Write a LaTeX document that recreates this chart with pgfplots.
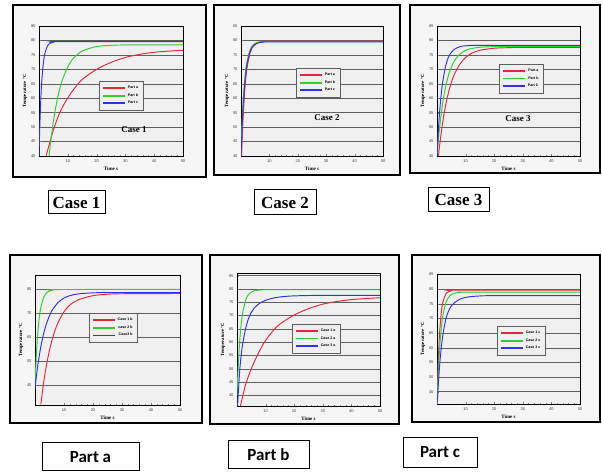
\documentclass[border=0pt]{standalone}
\usepackage{pgfplots}
\pgfplotsset{compat=1.18}
\usepackage{fontspec}
\setmainfont{Liberation Serif}
\setsansfont{Liberation Sans}
\newfontfamily\carlito{Carlito}

\definecolor{cred}{RGB}{228,40,60}
\definecolor{cgreen}{RGB}{50,205,50}
\definecolor{cblue}{RGB}{50,50,235}
\definecolor{panelbg}{RGB}{240,240,240}
\definecolor{framebg}{RGB}{246,246,246}
\definecolor{gridc}{RGB}{95,95,95}

\pgfplotsset{panel/.style={
 scale only axis, xmin=0, xmax=50, xtick={10,20,30,40,50},
 minor x tick num=4, minor y tick num=4,
 tick pos=left, tick align=inside,
 major tick length=2pt, minor tick length=1pt,
 ymajorgrids, grid style={gridc, line width=0.5pt},
 axis line style={black, line width=0.6pt},
 axis background/.style={fill=panelbg},
 ticklabel style={font=\sffamily\fontsize{4}{4}\selectfont, text=black!75},
 /pgf/number format/assume math mode=true,
 xlabel={Time s}, ylabel={Temperature °C},
 xlabel style={font=\bfseries\fontsize{5}{5}\selectfont, yshift=2pt},
 ylabel style={font=\bfseries\fontsize{4.8}{5}\selectfont, yshift=-3pt},
 every axis plot/.append style={line width=0.95pt, smooth},
 legend style={font=\sffamily\bfseries\fontsize{3.6}{4}\selectfont, draw=gridc, fill=panelbg, line width=0.4pt, inner xsep=3pt, inner ysep=3pt, row sep=-0.5pt, anchor=north west},
 legend cell align=right,
 legend image code/.code={\draw[#1, line width=1.6pt] (0pt,0pt) -- (22pt,0pt);},
}}

\begin{document}
\begin{tikzpicture}
\useasboundingbox (0pt,0pt) rectangle (602pt,471pt);
\fill[white] (0pt,0pt) rectangle (602pt,471pt);

% frames
\draw[line width=1.1pt, fill=framebg] (13pt,294pt) rectangle (206pt,466pt);
\draw[line width=1.1pt, fill=framebg] (214pt,296pt) rectangle (400pt,466pt);
\draw[line width=1.1pt, fill=framebg] (410pt,298pt) rectangle (600pt,466pt);
\draw[line width=1.1pt, fill=framebg] (10pt,48pt) rectangle (202pt,216pt);
\draw[line width=1.1pt, fill=framebg] (210pt,47pt) rectangle (399pt,216pt);
\draw[line width=1.1pt, fill=framebg] (412pt,49pt) rectangle (600pt,216pt);

% ---------- Case 1
\begin{axis}[panel, at={(39pt,315pt)}, anchor=south west, width=144pt, height=130pt,
  ymin=40, ymax=85, ytick={40,45,...,85},
  legend style={at={(0.417,0.577)}}]
\addplot[cred] coordinates {(2.5,40) (3,42) (5,49) (7,54.5) (9.3,59) (12,63) (15,66.5) (20,70) (25,72.4) (30,74.1) (35,75.2) (40,75.9) (45,76.3) (50,76.6)};
\addplot[cgreen] coordinates {(3.5,40) (4,44.5) (5,52) (6,57.9) (7,62.5) (8,66) (10,70.9) (12,73.9) (15,76.3) (20,77.9) (25,78.3) (30,78.45) (50,78.5)};
\addplot[cblue] coordinates {(0,39.6) (0.25,49.3) (0.5,56.6) (0.75,62.2) (1,66.4) (1.5,72) (2,75.3) (3,78.2) (4,79.1) (5,79.4) (7,79.6) (50,79.6)};
\legend{Part a, Part b, Part c}
\node[font=\bfseries\fontsize{9}{9}\selectfont] at (axis cs:33,49) {Case 1};
\end{axis}

% ---------- Case 2
\begin{axis}[panel, at={(241pt,315pt)}, anchor=south west, width=142pt, height=130pt,
  ymin=40, ymax=85, ytick={40,45,...,85},
  legend style={at={(0.387,0.677)}}]
\addplot[cred, line width=1.3pt] coordinates {(0.15,40) (0.4,46.7) (0.65,52.5) (1.15,61.2) (1.65,67.1) (2.15,71.1) (3.15,75.7) (4.15,77.9) (5.15,78.8) (6.15,79.3) (8.15,79.6) (10.15,79.7) (50,79.7)};
\addplot[cgreen, line width=1pt] coordinates {(0,42) (0.25,48.5) (0.5,54.2) (1,62.6) (1.5,68.2) (2,72) (3,76.2) (4,78.2) (5,79) (6,79.4) (8,79.65) (10,79.7) (50,79.7)};
\addplot[cblue, line width=0.9pt] coordinates {(0,40) (0.25,46.7) (0.5,52.5) (1,61.2) (1.5,67.1) (2,71.1) (3,75.6) (4,77.8) (5,78.7) (6,79.15) (8,79.45) (10,79.5) (50,79.5)};
\legend{Part a, Part b, Part c}
\node[font=\bfseries\fontsize{9}{9}\selectfont] at (axis cs:30.3,53.2) {Case 2};
\end{axis}

% ---------- Case 3
\begin{axis}[panel, at={(437pt,315pt)}, anchor=south west, width=143pt, height=130pt,
  ymin=40, ymax=85, ytick={40,45,...,85},
  legend style={at={(0.434,0.708)}}]
\addplot[cred] coordinates {(0.5,40) (1,44.4) (2,51.8) (3,57.5) (4,61.9) (5,65.4) (6,68.1) (8,71.8) (10,74.1) (12,75.5) (15,76.6) (20,77.3) (25,77.5) (30,77.6) (50,77.6)};
\addplot[cgreen] coordinates {(0,40) (0.5,45.8) (1,50.7) (2,58.5) (3,63.9) (4,67.9) (5,70.7) (6,72.8) (8,75.3) (10,76.55) (12,77.2) (15,77.65) (20,77.85) (30,77.9) (50,77.9)};
\addplot[cblue] coordinates {(0,40) (0.5,49.3) (1,56.3) (1.5,61.6) (2,65.7) (3,71.1) (4,74.2) (5,75.9) (6,76.9) (8,77.85) (10,78.15) (12,78.25) (15,78.3) (50,78.3)};
\legend{Part a, Part b, Part C}
\node[font=\bfseries\fontsize{9}{9}\selectfont] at (axis cs:28.3,52.8) {Case 3};
\end{axis}

% ---------- Part a
\begin{axis}[panel, at={(35pt,66pt)}, anchor=south west, width=145pt, height=130pt,
  ymin=31.7, ymax=85.8, ytick={40,50,...,80},
  legend style={at={(0.372,0.708)}}]
\addplot[cred] coordinates {(2,32) (3,41.2) (4,48.6) (5,54.5) (6,59.3) (7,63.1) (8,66.1) (10,70.5) (12,73.3) (15,75.5) (20,77.2) (25,77.8) (30,78) (50,78.1)};
\addplot[cgreen] coordinates {(0,39.8) (0.25,47.3) (0.5,53.4) (1,62.4) (1.5,68.3) (2,72.2) (3,76.5) (4,78.4) (5,79.2) (6,79.5) (8,79.75) (50,79.8)};
\addplot[cblue] coordinates {(0,38.5) (0.5,43.8) (1,48.5) (2,55.9) (3,61.5) (4,65.7) (5,68.9) (6,71.3) (8,74.4) (10,76.2) (12,77.2) (15,77.95) (20,78.37) (25,78.47) (50,78.5)};
\legend{Case 1 b, case 2 b, Case3 b}
\end{axis}

% ---------- Part b
\begin{axis}[panel, at={(237pt,65pt)}, anchor=south west, width=143pt, height=133pt,
  ymin=36, ymax=86, ytick={40,45,...,85},
  legend style={at={(0.385,0.617)}}]
\addplot[cred] coordinates {(1.2,36) (3,44) (5,50) (7,54.8) (9.3,59.5) (12,63.5) (15,66.8) (20,70.2) (25,72.6) (30,74.3) (35,75.3) (40,76) (45,76.4) (50,76.7)};
\addplot[cgreen] coordinates {(0,40) (0.25,46.7) (0.5,52.5) (1,61.2) (1.5,67.1) (2,71.1) (3,75.7) (4,77.9) (5,78.8) (6,79.3) (8,79.6) (10,79.7) (50,79.7)};
\addplot[cblue] coordinates {(0.2,36) (0.5,42) (1,50) (1.5,55.5) (2,59.5) (3,65) (4,68.8) (5,71.2) (6,72.8) (8,74.7) (10,75.7) (12,76.4) (15,77) (20,77.4) (30,77.6) (50,77.6)};
\legend{Case 1 a, Case 2 a, Case 3 a}
\end{axis}

% ---------- Part c
\begin{axis}[panel, at={(437pt,67pt)}, anchor=south west, width=143pt, height=130pt,
  ymin=40.8, ymax=85.2, ytick={45,50,...,85},
  legend style={at={(0.42,0.6)}}]
\addplot[cred] coordinates {(0,39.6) (0.25,49.3) (0.5,56.6) (0.75,62.2) (1,66.4) (1.5,72) (2,75.3) (3,78.2) (4,79.1) (5,79.5) (7,79.7) (50,79.7)};
\addplot[cgreen] coordinates {(0,40) (0.25,46.8) (0.5,52.4) (1,60.9) (1.5,66.7) (2,70.6) (3,75.1) (4,77.2) (5,78.2) (6,78.6) (8,78.9) (10,79) (50,79)};
\addplot[cblue] coordinates {(0.1,41.5) (0.5,48) (1,55) (1.5,60) (2,64) (3,69.5) (4,72.5) (5,74.3) (6,75.3) (8,76.6) (10,77.2) (12,77.5) (15,77.7) (20,77.8) (50,77.8)};
\legend{Case 1 c, Case 2 c, Case 3 c}
\end{axis}

% captions
\tikzset{capt/.style={draw, line width=1pt, inner sep=0pt, fill=white}}
\node[capt, minimum width=57pt, minimum height=23pt, font=\bfseries\fontsize{17}{17}\selectfont] at (76.5pt,268.5pt) {Case 1};
\node[capt, minimum width=62pt, minimum height=25pt, font=\bfseries\fontsize{17}{17}\selectfont] at (285pt,268.5pt) {Case 2};
\node[capt, minimum width=61pt, minimum height=24pt, font=\bfseries\fontsize{17}{17}\selectfont] at (458.5pt,271pt) {Case 3};
\node[capt, minimum width=97pt, minimum height=27.7pt, font=\carlito\bfseries\fontsize{17}{17}\selectfont] at (90.5pt,14.2pt) {Part a};
\node[capt, minimum width=81pt, minimum height=27pt, font=\carlito\bfseries\fontsize{17}{17}\selectfont] at (268.5pt,16.5pt) {Part b};
\node[capt, minimum width=74pt, minimum height=29pt, font=\carlito\bfseries\fontsize{17}{17}\selectfont] at (440pt,18.5pt) {Part c};
\end{tikzpicture}
\end{document}
